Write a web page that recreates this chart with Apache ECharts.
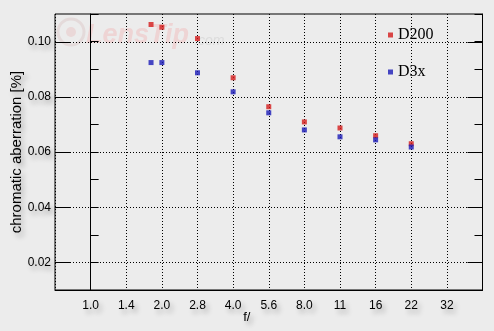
<!DOCTYPE html>
<html>
<head>
<meta charset="utf-8">
<script src="https://cdn.jsdelivr.net/npm/echarts@6/dist/echarts.min.js"></script>
<style>
html,body{margin:0;padding:0;background:#ececec;}
#chart{width:494px;height:331px;}
</style>
</head>
<body>
<div id="chart"></div>
<script>
// f-stop tick labels (axis positions are their indices)
const xLabels = ['1.0','1.4','2.0','2.8','4.0','5.6','8.0','11','16','22','32'];
// apertures measured
const apertures = ['1.8','2.0','2.8','4.0','5.6','8.0','11','16','22'];
const d200 = [0.1062, 0.1052, 0.1011, 0.0869, 0.0764, 0.0709, 0.0687, 0.0659, 0.0630];
const d3x  = [0.0924, 0.0924, 0.0887, 0.0818, 0.0742, 0.0680, 0.0655, 0.0644, 0.0618];
// major y ticks (labelled)
const yMajor = [0.02, 0.04, 0.06, 0.08, 0.10];

function xPos(f){
  const i = xLabels.indexOf(f);
  return i >= 0 ? i : 2*Math.log2(parseFloat(f));
}
const shadow = {textShadowColor:'rgba(0,0,0,0.3)', textShadowBlur:5, textShadowOffsetX:3, textShadowOffsetY:4};
const chart = echarts.init(document.getElementById('chart'));
chart.setOption({
  backgroundColor:'#ececec',
  animation:false,
  grid:{left:55, right:11.5, top:14, bottom:41, show:true, borderColor:'#000', borderWidth:1, outerBoundsMode:'none'},
  graphic:[
    {type:'circle', z:-1, shape:{cx:71, cy:32, r:13}, style:{fill:'none', stroke:'#e4dada', lineWidth:3}},
    {type:'circle', z:-1, shape:{cx:71, cy:32, r:5}, style:{fill:'#ead8d8'}},
    {type:'text', z:-1, x:86, y:36, style:{text:'LensTip', font:'italic bold 27px "Liberation Sans"', fill:'#eed4d4', verticalAlign:'middle'}},
    {type:'text', z:-1, x:194, y:41, style:{text:'.com', font:'italic 14px "Liberation Sans"', fill:'#dcdcdc', verticalAlign:'middle'}}
  ],
  legend:{
    left:383, top:22, orient:'vertical', itemWidth:5, itemHeight:5, itemGap:21,
    icon:'rect', data:['D200','D3x'],
    textStyle:{fontFamily:'"Liberation Serif"', fontSize:16, color:'#000', lineHeight:16}
  },
  xAxis:{
    type:'value', min:-1, max:11, interval:1,
    axisLine:{show:true, lineStyle:{color:'#000', width:1}},
    axisTick:{show:false},
    splitLine:{show:true, lineStyle:{color:'#000', width:1, type:[1,2]}},
    axisLabel:{formatter:v => (xLabels[v] !== undefined ? xLabels[v] : ''), color:'#000', fontFamily:'"Liberation Sans"', fontSize:12, margin:10, ...shadow},
    name:'f/', nameLocation:'middle', nameGap:21, nameMoveOverlap:false,
    nameTextStyle:{color:'#000', fontFamily:'"Liberation Sans"', fontSize:13, padding:[0,44,0,0], ...shadow}
  },
  yAxis:[{
    type:'value', min:0.01, max:0.11, interval:0.01,
    axisLine:{show:true, lineStyle:{color:'#000', width:1}},
    axisTick:{show:true, inside:true, length:8, lineStyle:{color:'#000'}},
    splitLine:{show:false},
    axisLabel:{formatter:v => (yMajor.some(m => Math.abs(m - v) < 1e-9) ? v.toFixed(2) : ''), color:'#000', fontFamily:'"Liberation Sans"', fontSize:12, margin:4, ...shadow},
    name:'chromatic aberration [%]', nameLocation:'middle', nameGap:31, nameMoveOverlap:false,
    nameTextStyle:{color:'#000', fontFamily:'"Liberation Sans"', fontSize:15, ...shadow}
  },{
    type:'value', position:'right', min:0.01, max:0.11, interval:0.01,
    axisLine:{show:true, lineStyle:{color:'#000', width:1}},
    axisTick:{show:true, inside:true, length:8, lineStyle:{color:'#000'}},
    splitLine:{show:false},
    axisLabel:{show:false}
  }],
  series:[
    {
      type:'custom', silent:true, z:1,
      data: yMajor.map(v => [0, v]),
      renderItem:(params, api) => {
        const y = Math.round(api.coord([0, api.value(1)])[1]) + 0.5;
        const cs = params.coordSys;
        const x0 = cs.x, x1 = cs.x + cs.width;
        return {type:'group', children:[
          {type:'line', shape:{x1:x0, y1:y, x2:x1, y2:y}, style:{stroke:'#000', lineWidth:1, lineDash:[1,2]}},
          {type:'line', shape:{x1:x0, y1:y, x2:x0+15, y2:y}, style:{stroke:'#000', lineWidth:1}},
          {type:'line', shape:{x1:x1-15, y1:y, x2:x1, y2:y}, style:{stroke:'#000', lineWidth:1}}
        ]};
      }
    },
    {name:'D200', type:'scatter', symbol:'rect', symbolSize:5, itemStyle:{color:'#d41c1c'}, z:3,
      data: apertures.map((f,i) => [xPos(f), d200[i]])},
    {name:'D3x', type:'scatter', symbol:'rect', symbolSize:5, itemStyle:{color:'#1a1ab8'}, z:4,
      data: apertures.map((f,i) => [xPos(f), d3x[i]])}
  ]
});
</script>
</body>
</html>
